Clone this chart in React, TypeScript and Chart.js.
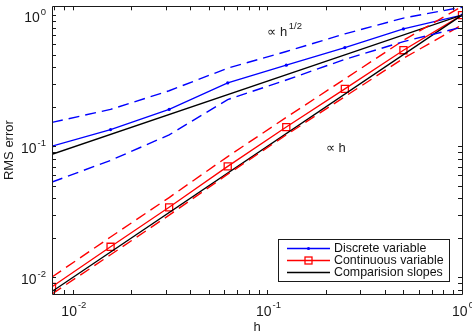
import React, { useEffect, useRef } from 'react';
import { Chart, registerables } from 'chart.js';

Chart.register(...registerables);

// ---------- data ----------
const hValues = [1 / 128, 1 / 64, 1 / 32, 1 / 16, 1 / 8, 1 / 4, 1 / 2, 1];

const discreteMean = [0.1, 0.134, 0.191, 0.304, 0.415, 0.566, 0.785, 1.0];
const discreteUpper = [0.152, 0.191, 0.265, 0.394, 0.528, 0.72, 0.95, 1.15];
const discreteLower = [0.0533, 0.078, 0.122, 0.227, 0.32, 0.46, 0.628, 0.81];

const continuousMean = [0.00846, 0.0171, 0.0342, 0.0702, 0.14, 0.274, 0.54, 1.0];
const continuousUpper = [0.01005, 0.0203, 0.0406, 0.0834, 0.166, 0.326, 0.642, 1.168];
const continuousLower = [0.00746, 0.01486, 0.0298, 0.0612, 0.122, 0.239, 0.468, 0.842];

const slopeH = [1 / 128, 1];
const slopeHalfValues = [0.0868, 1.0];
const slopeOneValues = [0.0078, 1.0];

const xMin = 1 / 128;
const xMax = 1;
const yMin = 0.00746;
const yMax = 1.168;

const tickExponents = [-2, -1, 0];
const legendLabels = ['Discrete variable', 'Continuous variable', 'Comparision slopes'];
const xTitle = 'h';
const yTitle = 'RMS error';
const annotations = [
  { x: 0.1, y: 0.76, base: '\u221D h', sup: '1/2' },
  { x: 0.2, y: 0.1, base: '\u221D h', sup: '' },
];

const FONT = "'Liberation Sans', Arial, Helvetica, sans-serif";
const BLUE = '#0000ff';
const RED = '#ff0000';
const BLACK = '#000000';
const AXIS = '#1a1a1a';

const pts = (xs: number[], ys: number[]) => xs.map((x, i) => ({ x, y: ys[i] }));

function minorValues(min: number, max: number): number[] {
  const out: number[] = [];
  for (let e = -4; e <= 1; e++) {
    for (let k = 1; k <= 9; k++) {
      const v = k * Math.pow(10, e);
      if (v >= min * 0.9999 && v <= max * 1.0001) out.push(v);
    }
  }
  return out;
}

const axesPlugin = {
  id: 'matlabAxes',
  afterDraw(chart: any) {
    const { ctx, chartArea } = chart;
    const xs = chart.scales.x;
    const ys = chart.scales.y;
    const { left, right, top, bottom } = chartArea;
    ctx.save();

    // ticks
    ctx.strokeStyle = AXIS;
    ctx.lineWidth = 1;
    const tl = 4;
    ctx.beginPath();
    minorValues(xMin, xMax).forEach((v) => {
      const px = Math.round(xs.getPixelForValue(v)) + 0.5;
      ctx.moveTo(px, bottom);
      ctx.lineTo(px, bottom - tl);
      ctx.moveTo(px, top);
      ctx.lineTo(px, top + tl);
    });
    minorValues(yMin, yMax).forEach((v) => {
      const py = Math.round(ys.getPixelForValue(v)) + 0.5;
      ctx.moveTo(left, py);
      ctx.lineTo(left + tl, py);
      ctx.moveTo(right, py);
      ctx.lineTo(right - tl, py);
    });
    ctx.stroke();

    // box
    ctx.beginPath();
    ctx.rect(Math.round(left) + 0.5, Math.round(top) + 0.5, Math.round(right - left), Math.round(bottom - top));
    ctx.stroke();

    // tick labels
    ctx.fillStyle = AXIS;
    const baseFont = `14px ${FONT}`;
    const supFont = `9.5px ${FONT}`;
    tickExponents.forEach((e) => {
      const v = Math.pow(10, e);
      const exp = String(e);
      ctx.font = baseFont;
      const w1 = ctx.measureText('10').width;
      ctx.font = supFont;
      const w2 = ctx.measureText(exp).width;
      const total = w1 + 1 + w2;
      // x axis
      const px = xs.getPixelForValue(v);
      let x0 = px - total / 2 + 1;
      ctx.textAlign = 'left';
      ctx.textBaseline = 'alphabetic';
      ctx.font = baseFont;
      ctx.fillText('10', x0, bottom + 22);
      ctx.font = supFont;
      ctx.fillText(exp, x0 + w1 + 1, bottom + 14);
      // y axis
      const py = ys.getPixelForValue(v);
      x0 = left - 6 - total;
      ctx.font = baseFont;
      ctx.fillText('10', x0, py + 7);
      ctx.font = supFont;
      ctx.fillText(exp, x0 + w1 + 1, py);
    });

    // axis titles
    ctx.font = `13px ${FONT}`;
    ctx.textAlign = 'center';
    ctx.textBaseline = 'alphabetic';
    ctx.fillText(xTitle, (left + right) / 2, 331);
    ctx.save();
    ctx.translate(13, (top + bottom) / 2);
    ctx.rotate(-Math.PI / 2);
    ctx.fillText(yTitle, 0, 0);
    ctx.restore();

    // annotations
    ctx.textAlign = 'left';
    annotations.forEach((a) => {
      const ax = xs.getPixelForValue(a.x);
      const ay = ys.getPixelForValue(a.y) + 5.7;
      ctx.font = `13px ${FONT}`;
      ctx.fillStyle = '#222';
      ctx.fillText(a.base, ax, ay);
      if (a.sup) {
        const w = ctx.measureText(a.base).width;
        ctx.font = `9.5px ${FONT}`;
        ctx.fillText(a.sup, ax + w + 1.5, ay - 7.5);
      }
    });

    // legend
    const lx = 278.5, ly = 239.5, lw = 171, lh = 42;
    ctx.fillStyle = '#ffffff';
    ctx.fillRect(lx, ly, lw, lh);
    ctx.strokeStyle = AXIS;
    ctx.lineWidth = 1;
    ctx.strokeRect(lx, ly, lw, lh);
    const rows = [248.5, 260.5, 272.5];
    const colors = [BLUE, RED, BLACK];
    rows.forEach((ry, i) => {
      ctx.strokeStyle = colors[i];
      ctx.lineWidth = 1.3;
      ctx.beginPath();
      ctx.moveTo(287, ry);
      ctx.lineTo(330, ry);
      ctx.stroke();
      if (i === 0) {
        ctx.fillStyle = BLUE;
        ctx.beginPath();
        ctx.arc(308.5, ry, 1.6, 0, Math.PI * 2);
        ctx.fill();
      } else if (i === 1) {
        ctx.strokeStyle = RED;
        ctx.lineWidth = 1.3;
        ctx.strokeRect(305, ry - 3.5, 7, 7);
      }
      ctx.fillStyle = '#111';
      ctx.font = `12.4px ${FONT}`;
      ctx.textAlign = 'left';
      ctx.textBaseline = 'middle';
      ctx.fillText(legendLabels[i], 334, ry + 0.5);
    });

    ctx.restore();
  },
};

export default function App() {
  const ref = useRef<HTMLCanvasElement | null>(null);

  useEffect(() => {
    if (!ref.current) return;
    const dashed = [11, 6];
    const chart = new Chart(ref.current, {
      type: 'line',
      data: {
        datasets: [
          {
            label: 'Discrete upper',
            data: pts(hValues, discreteUpper),
            borderColor: BLUE,
            borderWidth: 1.4,
            borderDash: dashed,
            pointRadius: 0,
          },
          {
            label: 'Discrete lower',
            data: pts(hValues, discreteLower),
            borderColor: BLUE,
            borderWidth: 1.4,
            borderDash: dashed,
            pointRadius: 0,
          },
          {
            label: 'Continuous upper',
            data: pts(hValues, continuousUpper),
            borderColor: RED,
            borderWidth: 1.4,
            borderDash: dashed,
            pointRadius: 0,
          },
          {
            label: 'Continuous lower',
            data: pts(hValues, continuousLower),
            borderColor: RED,
            borderWidth: 1.4,
            borderDash: dashed,
            pointRadius: 0,
          },
          {
            label: 'Comparision slope h^1/2',
            data: pts(slopeH, slopeHalfValues),
            borderColor: BLACK,
            borderWidth: 1.3,
            pointRadius: 0,
          },
          {
            label: 'Comparision slope h',
            data: pts(slopeH, slopeOneValues),
            borderColor: BLACK,
            borderWidth: 1.3,
            pointRadius: 0,
          },
          {
            label: 'Discrete variable',
            data: pts(hValues, discreteMean),
            borderColor: BLUE,
            backgroundColor: BLUE,
            borderWidth: 1.3,
            pointStyle: 'circle',
            pointRadius: 1.6,
            pointBorderWidth: 0,
          },
          {
            label: 'Continuous variable',
            data: pts(hValues, continuousMean),
            borderColor: RED,
            backgroundColor: 'rgba(0,0,0,0)',
            borderWidth: 1.3,
            pointStyle: 'rect',
            pointRadius: 5,
            pointBorderWidth: 1.3,
          },
        ],
      },
      options: {
        responsive: false,
        animation: false,
        layout: { padding: { left: 52, right: 10, top: 1, bottom: 41 } },
        plugins: { legend: { display: false }, tooltip: { enabled: false } },
        elements: { line: { tension: 0 } },
        scales: {
          x: {
            type: 'logarithmic',
            min: xMin,
            max: xMax,
            ticks: { display: false },
            grid: { display: false, drawTicks: false },
            border: { display: false },
          },
          y: {
            type: 'logarithmic',
            min: yMin,
            max: yMax,
            ticks: { display: false },
            grid: { display: false, drawTicks: false },
            border: { display: false },
          },
        },
      },
      plugins: [axesPlugin],
    } as any);
    return () => chart.destroy();
  }, []);

  return (
    <div style={{ position: 'fixed', left: 0, top: 0, width: 472, height: 335, background: '#fff' }}>
      <canvas ref={ref} width={472} height={335} style={{ display: 'block', width: 472, height: 335 }} />
    </div>
  );
}
